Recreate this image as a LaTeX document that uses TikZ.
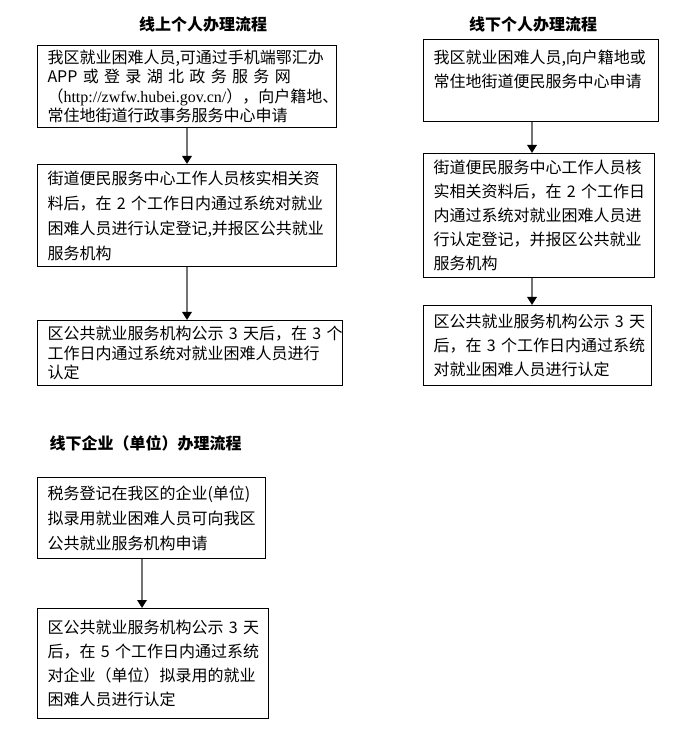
\documentclass[tikz,border=0pt]{standalone}
\usepackage{fontspec}
\setmainfont{Noto Sans CJK SC}
\newfontfamily\urlfont{Liberation Serif}
\usetikzlibrary{arrows.meta,positioning}
\tikzset{box/.style={draw,line width=.75pt,anchor=north west,inner xsep=7.5pt,inner ysep=0pt,align=left},
 ttl/.style={font=\bfseries\fontsize{12}{14}\selectfont},
 flow/.style={-{Triangle[width=7pt,length=6pt,color=black]},draw=black!55,line width=1.5pt}}

\begin{document}
\begin{tikzpicture}[x=.75pt,y=-.75pt]
\useasboundingbox (0,0) rectangle (681,730);
% online, individual
\node[ttl](t1) at (203,24){线上个人办理流程};
\node[box,text width=209.25pt,minimum height=61.5pt,font=\fontsize{12}{14.6}\selectfont](l1) at (37,45){我区就业困难人员,可通过手机端鄂汇办\\
\makebox[\linewidth][s]{APP 或 登 录 湖 北 政 务 服 务 网}\\
（{\urlfont http://zwfw.hubei.gov.cn/}），向户籍地、\\
常住地街道行政事务服务中心申请};
\node[box,text width=209.25pt,minimum height=76.5pt,font=\fontsize{12}{18.75}\selectfont](l2) at (37,164){街道便民服务中心工作人员核实相关资\\
料后，在~2~个工作日内通过系统对就业\\
困难人员进行认定登记,并报区公共就业\\
服务机构};
\node[box,text width=213.75pt,minimum height=48.75pt,font=\fontsize{12}{14.6}\selectfont](l3) at (37,320){区公共就业服务机构公示~3~天后，在~3~个\\
工作日内通过系统对就业困难人员进行\\
认定};
\coordinate (lx) at (187,0);
\draw[flow](l1.south -| lx)--(l2.north -| lx);
\draw[flow](l2.south -| lx)--(l3.north -| lx);
% offline, individual
\node[ttl](t2) at (533,24){线下个人办理流程};
\node[box,text width=161.25pt,minimum height=61.5pt,font=\fontsize{12}{18}\selectfont](r1) at (423,39){我区就业困难人员,向户籍地或\\
常住地街道便民服务中心申请\\ \mbox{}};
\node[box,text width=158.25pt,minimum height=93pt,font=\fontsize{12}{18}\selectfont](r2) at (423,153){街道便民服务中心工作人员核\\
实相关资料后，在~2~个工作日\\
内通过系统对就业困难人员进\\
行认定登记，并报区公共就业\\
服务机构};
\node[box,text width=156pt,minimum height=60pt,font=\fontsize{12}{18}\selectfont](r3) at (423,305){区公共就业服务机构公示~3~天\\
后，在~3~个工作日内通过系统\\
对就业困难人员进行认定};
\coordinate (rx) at (532,0);
\draw[flow](r1.south -| rx)--(r2.north -| rx);
\draw[flow](r2.south -| rx)--(r3.north -| rx);
% offline, employer
\node[ttl,anchor=west](t3) at (45,443){线下企业（单位）办理流程};
\node[box,text width=156pt,minimum height=60.75pt,font=\fontsize{12}{18.75}\selectfont](b1) at (37,477){税务登记在我区的企业(单位)\\
拟录用就业困难人员可向我区\\
公共就业服务机构申请};
\node[box,text width=158.25pt,minimum height=82.5pt,font=\fontsize{12}{18}\selectfont](b2) at (37,608){区公共就业服务机构公示~3~天\\
后，在~5~个工作日内通过系统\\
对企业（单位）拟录用的就业\\
困难人员进行认定};
\coordinate (bx) at (142,0);
\draw[flow](b1.south -| bx)--(b2.north -| bx);
\end{tikzpicture}
\end{document}
